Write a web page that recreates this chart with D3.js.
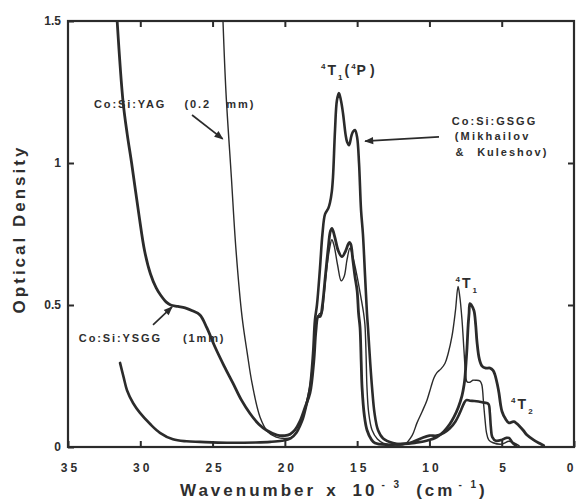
<!DOCTYPE html>
<html>
<head>
<meta charset="utf-8">
<script src="https://cdn.jsdelivr.net/npm/d3@7"></script>
<style>
  html, body { margin: 0; padding: 0; background: #ffffff; }
  svg { display: block; }
  text { font-family: "Liberation Sans", Arial, Helvetica, sans-serif; font-weight: bold; fill: #2e2e2e; }
</style>
</head>
<body>
<svg id="chart" width="577" height="499"></svg>
<script>
// ---- data (wavenumber in 10^3 cm^-1, optical density) ----
const xTickValues = [35, 30, 25, 20, 15, 10, 5, 0];
const xTickLabels = ["35", "30", "25", "20", "15", "10", "5", "0"];
const yTickValues = [0, 0.5, 1, 1.5];
const yTickLabels = ["0", "0.5", "1", "1.5"];

const seriesNames = ["Co:Si:YAG (0.2 mm)", "Co:Si:YSGG (1mm)", "Co:Si:GSGG (Mikhailov & Kuleshov)"];

const yag = [
  [24.28,1.5],[24.07,1.246],[23.7,0.95],[23.38,0.694],[22.96,0.458],[22.6,0.33],[22.27,0.225],
  [21.72,0.106],[21.17,0.053],[20.6,0.035],[20.0,0.03],[19.5,0.035],[19.1,0.06],[18.8,0.1],
  [18.5,0.16],[18.26,0.22],[18.0,0.33],[17.8,0.44],[17.6,0.47],[17.45,0.47],[17.3,0.53],
  [17.1,0.63],[16.9,0.7],[16.75,0.73],[16.6,0.71],[16.35,0.64],[16.1,0.585],[15.9,0.6],
  [15.7,0.66],[15.5,0.70],[15.3,0.67],[15.0,0.6],[14.75,0.53],[14.55,0.47],[14.46,0.43],
  [14.38,0.32],[14.32,0.21],[14.2,0.12],[13.97,0.06],[13.6,0.028],[13.2,0.014],[12.5,0.008],
  [11.7,0.01],[11.2,0.04],[10.86,0.085],[10.5,0.125],[10.17,0.165],[9.9,0.21],[9.69,0.243],
  [9.48,0.262],[9.2,0.275],[8.92,0.295],[8.7,0.33],[8.44,0.39],[8.2,0.48],[8.02,0.565],
  [7.9,0.53],[7.75,0.45],[7.61,0.34],[7.5,0.26],[7.4,0.23],[7.2,0.228],[7.0,0.235],
  [6.8,0.235],[6.5,0.232],[6.38,0.22],[6.25,0.15],[6.16,0.1],[6.05,0.05],[5.9,0.025],
  [5.6,0.015],[5.0,0.01],[4.5,0.02],[4.2,0.015],[3.8,0.005]
];

const ysgg = [
  [31.6,1.5],[31.2,1.22],[30.9,1.1],[30.6,1.0],[30.1,0.82],[29.7,0.69],[29.3,0.61],[28.9,0.56],
  [28.6,0.535],[28.2,0.51],[27.9,0.5],[27.4,0.495],[26.9,0.49],[26.4,0.48],[25.87,0.465],
  [25.4,0.42],[24.83,0.352],[24.2,0.285],[23.59,0.225],[23.0,0.165],[22.41,0.118],[21.8,0.08],
  [21.24,0.058],[20.54,0.042],[20.0,0.04],[19.64,0.045],[19.3,0.06],[18.96,0.09],[18.6,0.14],
  [18.26,0.19],[18.0,0.3],[17.85,0.41],[17.7,0.46],[17.55,0.46],[17.4,0.5],[17.2,0.6],
  [17.0,0.7],[16.85,0.76],[16.74,0.77],[16.55,0.74],[16.3,0.69],[16.05,0.67],[15.8,0.69],
  [15.55,0.72],[15.45,0.715],[15.3,0.66],[15.15,0.6],[15.0,0.55],[14.9,0.47],[14.8,0.42],
  [14.72,0.3],[14.66,0.21],[14.5,0.11],[14.32,0.06],[14.0,0.025],[13.77,0.014],[13.0,0.008],
  [12.0,0.01],[11.0,0.015],[10.2,0.022],[9.48,0.035],[9.0,0.055],[8.6,0.08],[8.3,0.106],
  [8.0,0.14],[7.75,0.18],[7.6,0.22],[7.54,0.246],[7.45,0.31],[7.4,0.35],[7.32,0.43],
  [7.26,0.47],[7.2,0.505],[7.1,0.5],[6.92,0.48],[6.8,0.43],[6.71,0.37],[6.55,0.31],
  [6.36,0.285],[6.1,0.278],[5.81,0.278],[5.6,0.27],[5.47,0.255],[5.3,0.22],[5.19,0.19],
  [5.08,0.15],[4.98,0.125],[4.75,0.1],[4.5,0.085],[4.3,0.088],[4.15,0.089],[3.95,0.082],
  [3.8,0.075],[3.5,0.058],[3.25,0.042],[2.8,0.025],[2.35,0.012],[2.1,0.005]
];

const gsgg = [
  [31.4,0.296],[31.15,0.245],[30.92,0.2],[30.5,0.155],[30.02,0.12],[29.3,0.08],[28.64,0.05],
  [27.74,0.027],[26.8,0.02],[25.87,0.018],[24,0.015],[22,0.016],[21,0.018],[20.2,0.022],
  [19.6,0.03],[19.2,0.05],[18.95,0.075],[18.75,0.1],[18.5,0.15],[18.26,0.21],[18.05,0.33],
  [17.92,0.447],[17.78,0.5],[17.57,0.63],[17.4,0.75],[17.22,0.82],[17.0,0.84],[16.88,0.86],
  [16.75,0.9],[16.67,0.95],[16.53,1.116],[16.4,1.22],[16.26,1.246],[16.12,1.22],[15.98,1.176],
  [15.8,1.1],[15.7,1.075],[15.56,1.063],[15.4,1.095],[15.29,1.11],[15.15,1.116],[15.0,1.09],
  [14.87,1.0],[14.73,0.834],[14.6,0.75],[14.45,0.6],[14.32,0.47],[14.25,0.42],[14.1,0.3],
  [13.97,0.21],[13.8,0.12],[13.56,0.06],[13.2,0.03],[12.52,0.014],[12.0,0.01],[11.3,0.015],
  [10.6,0.03],[10.0,0.04],[9.5,0.04],[9.0,0.05],[8.6,0.065],[8.2,0.09],[7.9,0.12],
  [7.6,0.155],[7.45,0.165],[7.2,0.163],[6.9,0.162],[6.6,0.16],[6.3,0.157],[6.05,0.155],
  [5.9,0.15],[5.82,0.12],[5.75,0.07],[5.65,0.035],[5.4,0.022],[5.0,0.025],[4.7,0.032],
  [4.5,0.032],[4.25,0.015],[4.0,0.005]
];

// ---- layout ----
const svg = d3.select("#chart");
const W = 577, H = 499;
const m = { left: 68, right: 3, top: 21, bottom: 52 };
const x = d3.scaleLinear().domain([35, 0]).range([m.left, W - m.right]);
const y = d3.scaleLinear().domain([0, 1.5]).range([H - m.bottom, m.top]);
const ink = "#2b2b2b";

svg.append("rect").attr("width", W).attr("height", H).attr("fill", "#ffffff");

const defs = svg.append("defs");
defs.append("clipPath").attr("id", "plotclip")
  .append("rect").attr("x", x(35)).attr("y", y(1.5)).attr("width", x(0) - x(35)).attr("height", y(0) - y(1.5));
defs.append("marker").attr("id", "arrow").attr("viewBox", "0 0 10 10")
  .attr("refX", 9).attr("refY", 5).attr("markerWidth", 10).attr("markerHeight", 9)
  .attr("markerUnits", "userSpaceOnUse").attr("orient", "auto")
  .append("path").attr("d", "M0,1 L10,5 L0,9 Z").attr("fill", ink);

// ---- axes ----
const gx = svg.append("g").attr("transform", `translate(0,${y(0)})`)
  .call(d3.axisBottom(x).tickValues(xTickValues).tickSize(-6).tickPadding(16)
    .tickFormat((d, i) => xTickLabels[i]));
const gxt = svg.append("g").attr("transform", `translate(0,${y(1.5)})`)
  .call(d3.axisTop(x).tickValues(xTickValues.slice(1, -1)).tickSize(-6).tickFormat(""));
const gy = svg.append("g").attr("transform", `translate(${x(35)},0)`)
  .call(d3.axisLeft(y).tickValues(yTickValues).tickSize(-6).tickPadding(6)
    .tickFormat((d, i) => yTickLabels[i]));
const gyr = svg.append("g").attr("transform", `translate(${x(0)},0)`)
  .call(d3.axisRight(y).tickValues([0.5, 1]).tickSize(-6).tickFormat(""));

[gx, gxt, gy, gyr].forEach(g => {
  g.select(".domain").remove();
  g.selectAll(".tick line").attr("stroke", ink).attr("stroke-width", 2);
});
gx.selectAll(".tick text").attr("font-size", 12).attr("font-weight", "bold")
  .attr("fill", ink).style("letter-spacing", "3px")
  .attr("dx", (d, i) => i === xTickValues.length - 1 ? "-3" : "2");
gy.selectAll(".tick text").attr("font-size", 12).attr("font-weight", "bold")
  .attr("fill", ink).attr("dx", "-1");

svg.append("rect").attr("x", x(35)).attr("y", y(1.5))
  .attr("width", x(0) - x(35)).attr("height", y(0) - y(1.5))
  .attr("fill", "none").attr("stroke", ink).attr("stroke-width", 2.2);

// ---- curves ----
const line = d3.line().x(d => x(d[0])).y(d => y(d[1])).curve(d3.curveCatmullRom.alpha(0.5));
const plot = svg.append("g").attr("clip-path", "url(#plotclip)");
const curves = [
  { data: yag, w: 1.4 },
  { data: ysgg, w: 2.8 },
  { data: gsgg, w: 2.6 }
];
plot.selectAll("path.curve").data(curves).join("path")
  .attr("class", "curve")
  .attr("d", d => line(d.data))
  .attr("fill", "none").attr("stroke", ink)
  .attr("stroke-width", d => d.w)
  .attr("stroke-linejoin", "round").attr("stroke-linecap", "round");

// ---- annotations ----
function label(txt, wn, od, size, ls) {
  return svg.append("text").attr("x", x(wn)).attr("y", y(od))
    .attr("font-size", size).style("letter-spacing", ls + "px").text(txt);
}
// YAG
label("Co:Si:YAG", 33.2, 1.195, 11, 1.9);
label("(0.2", 26.95, 1.195, 11, 1.9);
label("mm)", 24.05, 1.195, 11, 1.9);
// YSGG
label("Co:Si:YSGG", 34.25, 0.37, 11, 1.9);
label("(1mm)", 27.05, 0.37, 11, 1.9);
// GSGG
label("Co:Si:GSGG", 8.45, 1.134, 11, 2.0);
label("(Mikhailov", 8.25, 1.081, 11, 2.2);
label("&", 8.2, 1.025, 11, 2.0);
label("Kuleshov)", 6.7, 1.025, 11, 2.0);

// arrows
function arrow(w0, o0, w1, o1) {
  svg.append("line").attr("x1", x(w0)).attr("y1", y(o0)).attr("x2", x(w1)).attr("y2", y(o1))
    .attr("stroke", ink).attr("stroke-width", 1.7).attr("marker-end", "url(#arrow)");
}
arrow(26.42, 1.169, 24.3, 1.085);
arrow(29.12, 0.43, 27.8, 0.493);
arrow(9.34, 1.092, 14.45, 1.077);

// term symbols
function term(wn, od, sub, paren) {
  const t = svg.append("text").attr("x", x(wn)).attr("y", y(od)).attr("font-size", 14);
  t.append("tspan").attr("font-size", 8).attr("dy", -6).text("4");
  t.append("tspan").attr("dy", 6).attr("dx", 2).text("T");
  t.append("tspan").attr("font-size", 8).attr("dy", 5).attr("dx", 2).text(sub);
  if (paren) {
    t.append("tspan").attr("dy", -5).attr("dx", 2).text("(");
    t.append("tspan").attr("font-size", 8).attr("dy", -6).attr("dx", 2).text("4");
    t.append("tspan").attr("dy", 6).attr("dx", 1).text("P");
    t.append("tspan").attr("dx", 4).text(")");
  }
  return t;
}
term(17.5, 1.31, "1", true);
term(8.2, 0.56, "1", false);
term(4.35, 0.135, "2", false);

// ---- axis titles ----
const xt = svg.append("text").attr("x", 180).attr("y", 496).attr("font-size", 17)
  .style("letter-spacing", "3px");
xt.append("tspan").text("Wavenumber");
xt.append("tspan").attr("dx", 10).text("x");
xt.append("tspan").attr("dx", 14).text("10");
xt.append("tspan").attr("font-size", 10).attr("dy", -8).attr("dx", 4).text("- 3");
xt.append("tspan").attr("dy", 8).attr("dx", 14).text("(cm");
xt.append("tspan").attr("font-size", 10).attr("dy", -8).attr("dx", 3).text("- 1");
xt.append("tspan").attr("dy", 8).attr("dx", 0).text(")");

svg.append("text").attr("transform", "translate(25,229) rotate(-90)")
  .attr("text-anchor", "middle").attr("font-size", 17)
  .style("letter-spacing", "3px").text("Optical  Density");
</script>
</body>
</html>
